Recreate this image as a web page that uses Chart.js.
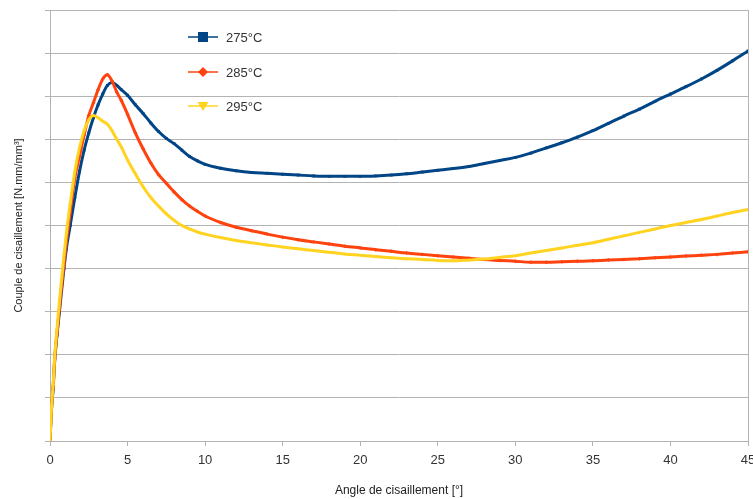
<!DOCTYPE html>
<html><head><meta charset="utf-8">
<script src="https://cdn.jsdelivr.net/npm/chart.js@4/dist/chart.umd.min.js"></script>
<style>html,body{margin:0;padding:0;background:#fff;}#wrap{width:753px;height:499px;position:relative;}</style>
</head><body><div id="wrap"><canvas id="c" width="753" height="499"></canvas></div>
<script>
const angles = [0,0.1,0.2,0.3,0.45,0.6,0.75,0.9,1.05,1.3,1.6,1.9,2.2,2.5,2.8,3.1,3.4,3.7,4.0,4.3,4.6,5.0,5.5,6.0,6.5,7.0,7.5,8.0,8.5,9.0,9.5,10,11,12,13,14,15,16,17,18,19,20,21,22,23,24,25,26,27,28,29,30,31,32,33,34,35,36,37,38,39,40,41,42,43,44,45];
const couple275 = [0,0.75,1.2,1.85,2.45,2.97,3.5,4.0,4.45,5.0,5.65,6.25,6.75,7.15,7.5,7.8,8.05,8.25,8.32,8.25,8.15,8.02,7.8,7.6,7.38,7.18,7.02,6.9,6.75,6.6,6.5,6.42,6.33,6.27,6.23,6.21,6.19,6.17,6.15,6.14,6.14,6.14,6.15,6.17,6.2,6.24,6.28,6.32,6.37,6.44,6.51,6.58,6.68,6.8,6.92,7.05,7.2,7.37,7.54,7.7,7.88,8.05,8.22,8.4,8.6,8.82,9.05];
const couple285 = [0,0.8,1.25,1.9,2.5,3.05,3.6,4.1,4.6,5.3,6.1,6.6,7.1,7.55,7.85,8.15,8.4,8.5,8.35,8.1,7.9,7.58,7.15,6.78,6.45,6.18,5.98,5.78,5.6,5.45,5.33,5.22,5.07,4.96,4.88,4.8,4.73,4.67,4.62,4.57,4.52,4.48,4.44,4.4,4.36,4.33,4.3,4.27,4.24,4.21,4.19,4.17,4.15,4.15,4.16,4.17,4.18,4.2,4.21,4.23,4.25,4.27,4.29,4.31,4.33,4.36,4.39];
const couple295 = [0,0.8,1.3,1.95,2.6,3.2,3.75,4.3,4.8,5.5,6.25,6.8,7.2,7.45,7.55,7.5,7.42,7.35,7.2,7.0,6.82,6.52,6.2,5.9,5.65,5.45,5.27,5.12,5.0,4.92,4.85,4.8,4.72,4.65,4.6,4.55,4.5,4.46,4.42,4.38,4.34,4.31,4.28,4.25,4.23,4.21,4.19,4.18,4.2,4.22,4.26,4.3,4.36,4.42,4.48,4.54,4.6,4.68,4.76,4.84,4.92,5.0,5.07,5.14,5.22,5.3,5.37];
const seriesNames = ['275°C','285°C','295°C'];
const xTicks = [0,5,10,15,20,25,30,35,40,45];

const colors = ['#004586','#ff420e','#ffd320'];
const styles = ['rect','rectRot','triangle'];
const rots = [0,0,180];
const ys = [couple275, couple285, couple295];

function pts(arr){ return angles.map((a,i)=>({x:a,y:arr[i]})); }

const legendPlugin = {
  id:'inlegend',
  afterDraw(chart){
    const ctx = chart.ctx;
    ctx.save();
    const rows = [37,72,106];
    seriesNames.forEach((n,i)=>{
      const y = rows[i];
      ctx.strokeStyle = colors[i]; ctx.lineWidth = 1.5;
      ctx.beginPath(); ctx.moveTo(188,y); ctx.lineTo(218,y); ctx.stroke();
      ctx.fillStyle = colors[i];
      ctx.beginPath();
      if(i===0){ ctx.fillRect(198,y-5,10,10); }
      else if(i===1){ ctx.moveTo(203,y-5);ctx.lineTo(208,y);ctx.lineTo(203,y+5);ctx.lineTo(198,y);ctx.closePath();ctx.fill(); }
      else { ctx.moveTo(197.5,y-4);ctx.lineTo(208.5,y-4);ctx.lineTo(203,y+5);ctx.closePath();ctx.fill(); }
      ctx.fillStyle = '#333';
      ctx.font = '13px "Liberation Sans", Arial, sans-serif';
      ctx.textBaseline = 'middle'; ctx.textAlign='left';
      ctx.fillText(n,226,y+1);
    });
    ctx.restore();
  }
};

new Chart(document.getElementById('c'),{
  type:'line',
  data:{datasets: ys.map((arr,i)=>({
    label:seriesNames[i], data:pts(arr),
    borderColor:colors[i], backgroundColor:colors[i],
    borderWidth:3, pointStyle:styles[i], pointRotation:rots[i],
    pointRadius:2, pointBorderWidth:0, pointBackgroundColor:colors[i],
    cubicInterpolationMode:'monotone'
  })).reverse()},
  options:{
    responsive:false, animation:false,
    layout:{padding:{top:10,right:0,left:0,bottom:0}},
    plugins:{legend:{display:false},tooltip:{enabled:false}},
    font:{family:'"Liberation Sans", Arial, sans-serif'},
    scales:{
      x:{type:'linear',min:0,max:45,
        afterBuildTicks(s){ s.ticks = xTicks.map(v=>({value:v})); },
        afterFit(s){ s.paddingRight = 5; },
        ticks:{color:'#333',font:{family:'"Liberation Sans", Arial, sans-serif',size:13},padding:7,maxRotation:0,autoSkip:false},
        grid:{color:c=>(c.tick&&c.tick.value===45)?'#b3b3b3':'rgba(0,0,0,0)',tickColor:'#b3b3b3',tickLength:5,lineWidth:1},
        border:{color:'#b3b3b3'},
        title:{display:true,text:'Angle de cisaillement [°]',color:'#222',font:{family:'"Liberation Sans", Arial, sans-serif',size:12},padding:{top:8,bottom:1}}
      },
      y:{type:'linear',min:0,max:10,
        ticks:{display:false,stepSize:1},
        grid:{color:'#b3b3b3',tickColor:'#b3b3b3',tickLength:5,lineWidth:1},
        border:{color:'#b3b3b3'},
        title:{display:true,text:'Couple de cisaillement [N.mm/mm³]',color:'#222',font:{family:'"Liberation Sans", Arial, sans-serif',size:11},padding:{top:12,bottom:4}},
        afterFit(s){ s.width = 50; }
      }
    }
  },
  plugins:[legendPlugin]
});
</script></body></html>
